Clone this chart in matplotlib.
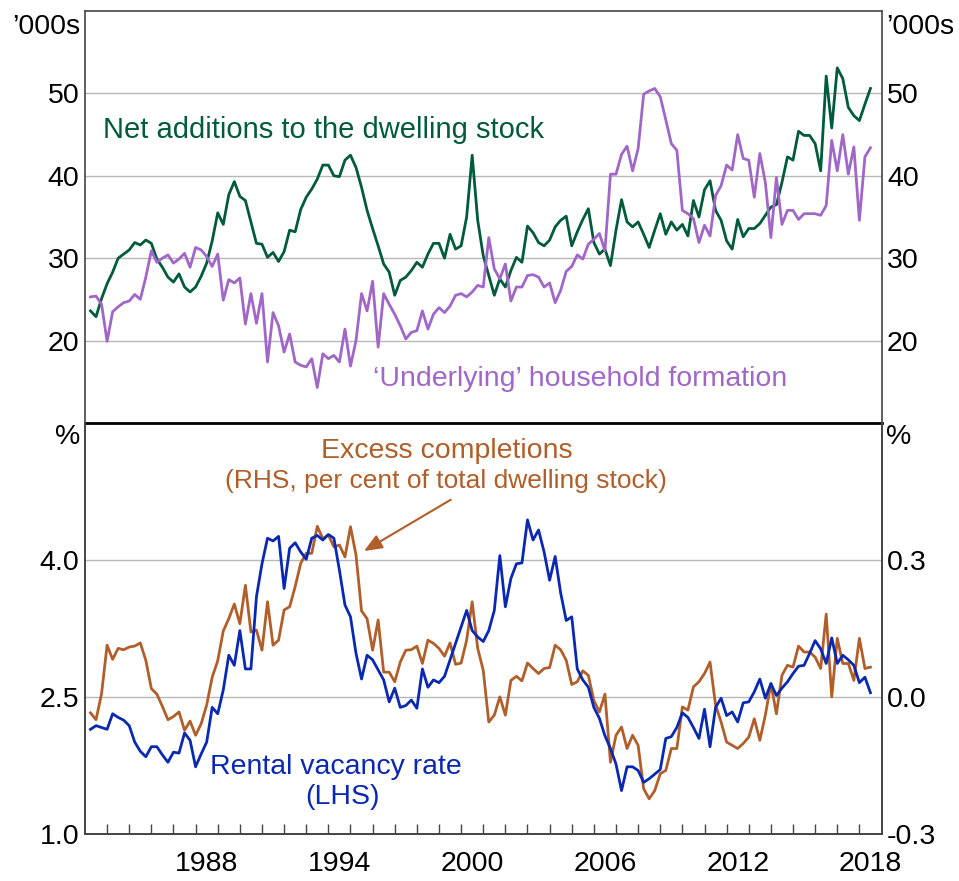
import numpy as np
import matplotlib
matplotlib.use("Agg")
import matplotlib.pyplot as plt

plt.rcParams['font.family'] = ['Liberation Sans', 'DejaVu Sans']

# quarterly observations, 1983 Q2 - 2018 Q3 (decimal years)
dates = np.arange(1983.25, 2018.51, 0.25)

# '000s, top panel
net_additions = [
    23.6, 22.9, 25.1, 26.9, 28.3, 30.0, 30.5, 31.0, 31.9, 31.6,
    32.2, 31.8, 29.9, 28.9, 27.7, 27.1, 28.1, 26.5, 25.9, 26.5,
    27.8, 29.4, 32.1, 35.5, 34.1, 37.7, 39.3, 37.5, 37.0, 34.4,
    31.8, 31.7, 30.1, 30.7, 29.6, 30.8, 33.4, 33.2, 35.9, 37.4,
    38.4, 39.6, 41.3, 41.3, 40.0, 39.9, 41.9, 42.5, 41.0, 38.6,
    35.8, 33.6, 31.5, 29.3, 28.3, 25.5, 27.3, 27.7, 28.5, 29.5,
    28.9, 30.5, 31.8, 31.8, 30.0, 32.9, 31.1, 31.5, 35.0, 42.5,
    34.6, 30.3, 27.9, 25.5, 27.5, 26.5, 28.5, 30.1, 29.5, 33.9,
    33.1, 31.9, 31.5, 32.2, 33.8, 34.6, 35.1, 31.5, 33.2, 34.7,
    36.0, 31.9, 30.5, 31.1, 29.1, 33.4, 37.1, 34.4, 33.8, 34.4,
    32.9, 31.3, 33.4, 35.4, 32.9, 34.4, 33.4, 34.1, 32.7, 37.0,
    35.0, 38.3, 39.4, 35.8, 34.6, 32.1, 31.1, 34.7, 32.6, 33.6,
    33.6, 34.2, 35.2, 36.2, 36.5, 39.2, 42.3, 41.9, 45.4, 44.9,
    44.9, 43.9, 40.6, 52.1, 45.8, 53.1, 51.8, 48.3, 47.3, 46.7,
    48.7, 50.6,
]
household_formation = [
    25.3, 25.4, 24.4, 19.9, 23.5, 24.1, 24.6, 24.8, 25.6, 25.0,
    27.7, 30.9, 29.5, 30.0, 30.4, 29.4, 29.9, 30.6, 28.9, 31.3,
    31.0, 30.2, 29.0, 30.5, 24.9, 27.4, 27.0, 27.6, 22.0, 25.7,
    22.1, 25.7, 17.4, 23.4, 21.8, 18.6, 20.8, 17.4, 17.0, 16.8,
    17.8, 14.3, 18.4, 17.8, 18.2, 17.4, 21.4, 16.9, 20.0, 25.7,
    23.6, 27.2, 19.2, 25.7, 24.4, 23.2, 21.8, 20.2, 21.0, 21.2,
    23.6, 21.4, 23.2, 24.0, 23.4, 24.2, 25.5, 25.7, 25.3, 25.9,
    26.7, 26.5, 32.5, 28.7, 27.5, 29.3, 24.8, 26.5, 26.5, 27.9,
    28.0, 27.7, 26.5, 27.0, 24.6, 26.1, 28.4, 29.0, 30.4, 29.9,
    31.7, 32.3, 33.0, 30.9, 40.2, 40.2, 42.6, 43.6, 40.6, 43.3,
    49.9, 50.3, 50.6, 49.6, 46.8, 43.9, 43.1, 35.8, 35.4, 34.8,
    31.9, 34.0, 32.7, 37.6, 38.8, 41.3, 40.7, 45.0, 42.1, 41.9,
    37.4, 42.7, 39.2, 32.5, 39.8, 34.1, 35.8, 35.8, 34.7, 35.4,
    35.4, 35.4, 35.2, 36.4, 44.3, 40.6, 45.0, 40.2, 43.5, 34.6,
    42.3, 43.4,
]

# %, bottom panel
vacancy_rate = [
    2.15, 2.19, 2.17, 2.15, 2.32, 2.28, 2.25, 2.19, 2.01, 1.91,
    1.85, 1.96, 1.96, 1.87, 1.79, 1.90, 1.89, 2.11, 2.03, 1.74,
    1.88, 2.01, 2.39, 2.32, 2.58, 2.96, 2.85, 3.23, 2.81, 2.81,
    3.60, 3.96, 4.24, 4.21, 4.26, 3.69, 4.13, 4.19, 4.09, 4.01,
    4.24, 4.27, 4.22, 4.28, 4.24, 3.89, 3.51, 3.38, 2.98, 2.70,
    2.96, 2.91, 2.80, 2.69, 2.45, 2.60, 2.39, 2.41, 2.47, 2.38,
    2.81, 2.61, 2.69, 2.66, 2.73, 2.91, 3.09, 3.27, 3.45, 3.23,
    3.16, 3.11, 3.23, 3.45, 4.05, 3.49, 3.80, 3.96, 3.97, 4.44,
    4.22, 4.33, 4.09, 3.78, 4.04, 3.64, 3.34, 3.38, 2.81, 2.69,
    2.61, 2.39, 2.27, 2.08, 1.94, 1.77, 1.48, 1.74, 1.74, 1.70,
    1.57, 1.61, 1.66, 1.71, 2.05, 2.07, 2.17, 2.33, 2.28, 2.17,
    2.05, 2.37, 1.96, 2.39, 2.49, 2.30, 2.34, 2.23, 2.44, 2.45,
    2.56, 2.70, 2.49, 2.65, 2.52, 2.60, 2.67, 2.76, 2.84, 2.85,
    2.98, 3.12, 3.03, 2.87, 3.15, 2.87, 2.96, 2.91, 2.85, 2.66,
    2.72, 2.55,
]
excess_completions = [
    -0.034, -0.049, 0.008, 0.114, 0.083, 0.107, 0.104, 0.110, 0.112, 0.119,
    0.081, 0.019, 0.007, -0.020, -0.049, -0.042, -0.032, -0.072, -0.052, -0.083,
    -0.058, -0.017, 0.044, 0.080, 0.145, 0.172, 0.204, 0.161, 0.245, 0.143,
    0.147, 0.103, 0.209, 0.114, 0.125, 0.191, 0.198, 0.242, 0.293, 0.315,
    0.315, 0.374, 0.347, 0.355, 0.329, 0.333, 0.307, 0.373, 0.311, 0.189,
    0.172, 0.103, 0.169, 0.055, 0.055, 0.034, 0.077, 0.103, 0.104, 0.112,
    0.074, 0.125, 0.118, 0.107, 0.090, 0.119, 0.072, 0.075, 0.125, 0.209,
    0.107, 0.059, -0.054, -0.039, 0.001, -0.039, 0.037, 0.046, 0.036, 0.075,
    0.063, 0.052, 0.063, 0.065, 0.114, 0.104, 0.081, 0.028, 0.034, 0.058,
    0.048, -0.007, -0.032, 0.007, -0.142, -0.083, -0.065, -0.112, -0.083, -0.105,
    -0.200, -0.222, -0.204, -0.167, -0.160, -0.112, -0.112, -0.021, -0.028, 0.023,
    0.034, 0.052, 0.077, -0.017, -0.054, -0.098, -0.105, -0.112, -0.101, -0.087,
    -0.047, -0.094, -0.039, 0.030, -0.036, 0.048, 0.070, 0.066, 0.112, 0.099,
    0.099, 0.088, 0.063, 0.182, 0.001, 0.129, 0.074, 0.074, 0.037, 0.129,
    0.063, 0.066,
]

top_ticks = [20, 30, 40, 50]
left_ticks = [1.0, 2.5, 4.0]
right_ticks = [-0.3, 0.0, 0.3]
year_labels = ['1988', '1994', '2000', '2006', '2012', '2018']

GREEN = '#005A3C'
PURPLE = '#A066C8'
BLUE = '#0A28B0'
BROWN = '#B05E2A'
GRID = '#B8B8B8'
FRAME = '#444444'
FS = 20.5

fig = plt.figure(figsize=(9.59, 8.81), dpi=100)
ax_t = fig.add_axes([0.0886, 0.5199, 0.8306, 0.4676])
ax_b = fig.add_axes([0.0886, 0.0528, 0.8306, 0.4671])
ax_b2 = ax_b.twinx()

# ---- top panel
ax_t.plot(dates, net_additions, color=GREEN, lw=2)
ax_t.plot(dates, household_formation, color=PURPLE, lw=2)
ax_t.set_xlim(1983, 2019)
ax_t.set_ylim(10, 60)
ax_t.set_yticks(top_ticks)
ax_t.set_yticklabels([str(v) for v in top_ticks])
ax_t.set_xticks([])
ax_t.grid(axis='y', color=GRID, lw=1)
ax_t.tick_params(axis='y', length=0, pad=4, labelsize=FS, labelright=True)
for s in ['top', 'left', 'right']:
    ax_t.spines[s].set_color(FRAME)
    ax_t.spines[s].set_linewidth(1.2)
ax_t.spines['bottom'].set_color('black')
ax_t.spines['bottom'].set_linewidth(2)
ax_t.text(-0.006, 0.96, '\u2019000s', transform=ax_t.transAxes, ha='right', va='center', fontsize=FS)
ax_t.text(1.006, 0.96, '\u2019000s', transform=ax_t.transAxes, ha='left', va='center', fontsize=FS)
ax_t.text(1983.81, 44.6, 'Net additions to the dwelling stock', color=GREEN, fontsize=21, ha='left', va='baseline')
ax_t.text(1996.0, 14.5, '\u2018Underlying\u2019 household formation', color=PURPLE, fontsize=FS, ha='left', va='baseline')

# ---- bottom panel
ax_b2.plot(dates, excess_completions, color=BROWN, lw=2)
ax_b2.set_ylim(-0.3, 0.6)
ax_b2.set_yticks(right_ticks)
ax_b2.set_yticklabels(['%.1f' % v for v in right_ticks])
ax_b2.grid(axis='y', color=GRID, lw=1)
ax_b2.tick_params(axis='y', length=0, pad=4, labelsize=FS)

ax_b.set_zorder(ax_b2.get_zorder() + 1)
ax_b.patch.set_visible(False)
ax_b.plot(dates, vacancy_rate, color=BLUE, lw=2)
ax_b.set_xlim(1983, 2019)
ax_b.set_ylim(1.0, 5.5)
ax_b.set_yticks(left_ticks)
ax_b.set_yticklabels(['%.1f' % v for v in left_ticks])
ax_b.tick_params(axis='y', length=0, pad=4, labelsize=FS)

ax_b.set_xticks(np.arange(1984, 2019))
ax_b.tick_params(axis='x', which='major', direction='in', length=7, width=1, color=FRAME, labelbottom=False)
ax_b.set_xticks([int(y) + 0.5 for y in year_labels], minor=True)
ax_b.set_xticklabels(year_labels, minor=True)
ax_b.tick_params(axis='x', which='minor', length=0, pad=12, labelsize=FS)

for a in (ax_b, ax_b2):
    for s in ['bottom', 'left', 'right']:
        a.spines[s].set_color(FRAME)
        a.spines[s].set_linewidth(1.2)
    a.spines['top'].set_visible(False)

ax_b.text(-0.006, 0.966, '%', transform=ax_b.transAxes, ha='right', va='center', fontsize=FS)
ax_b.text(1.006, 0.966, '%', transform=ax_b.transAxes, ha='left', va='center', fontsize=FS)

ax_b.text(1999.36, 5.12, 'Excess completions', color=BROWN, fontsize=FS, ha='center', va='baseline')
ax_b.text(1999.31, 4.785, '(RHS, per cent of total dwelling stock)', color=BROWN, fontsize=19, ha='center', va='baseline')
ax_b.annotate('', xy=(1995.5, 4.084), xytext=(1999.64, 4.676),
              arrowprops=dict(arrowstyle='-|>,head_length=1.1,head_width=0.45', color=BROWN, lw=1.5))
ax_b.text(1988.65, 1.664, 'Rental vacancy rate', color=BLUE, fontsize=FS, ha='left', va='baseline')
ax_b.text(1994.66, 1.336, '(LHS)', color=BLUE, fontsize=FS, ha='center', va='baseline')

fig.savefig('out.png', dpi=100)
